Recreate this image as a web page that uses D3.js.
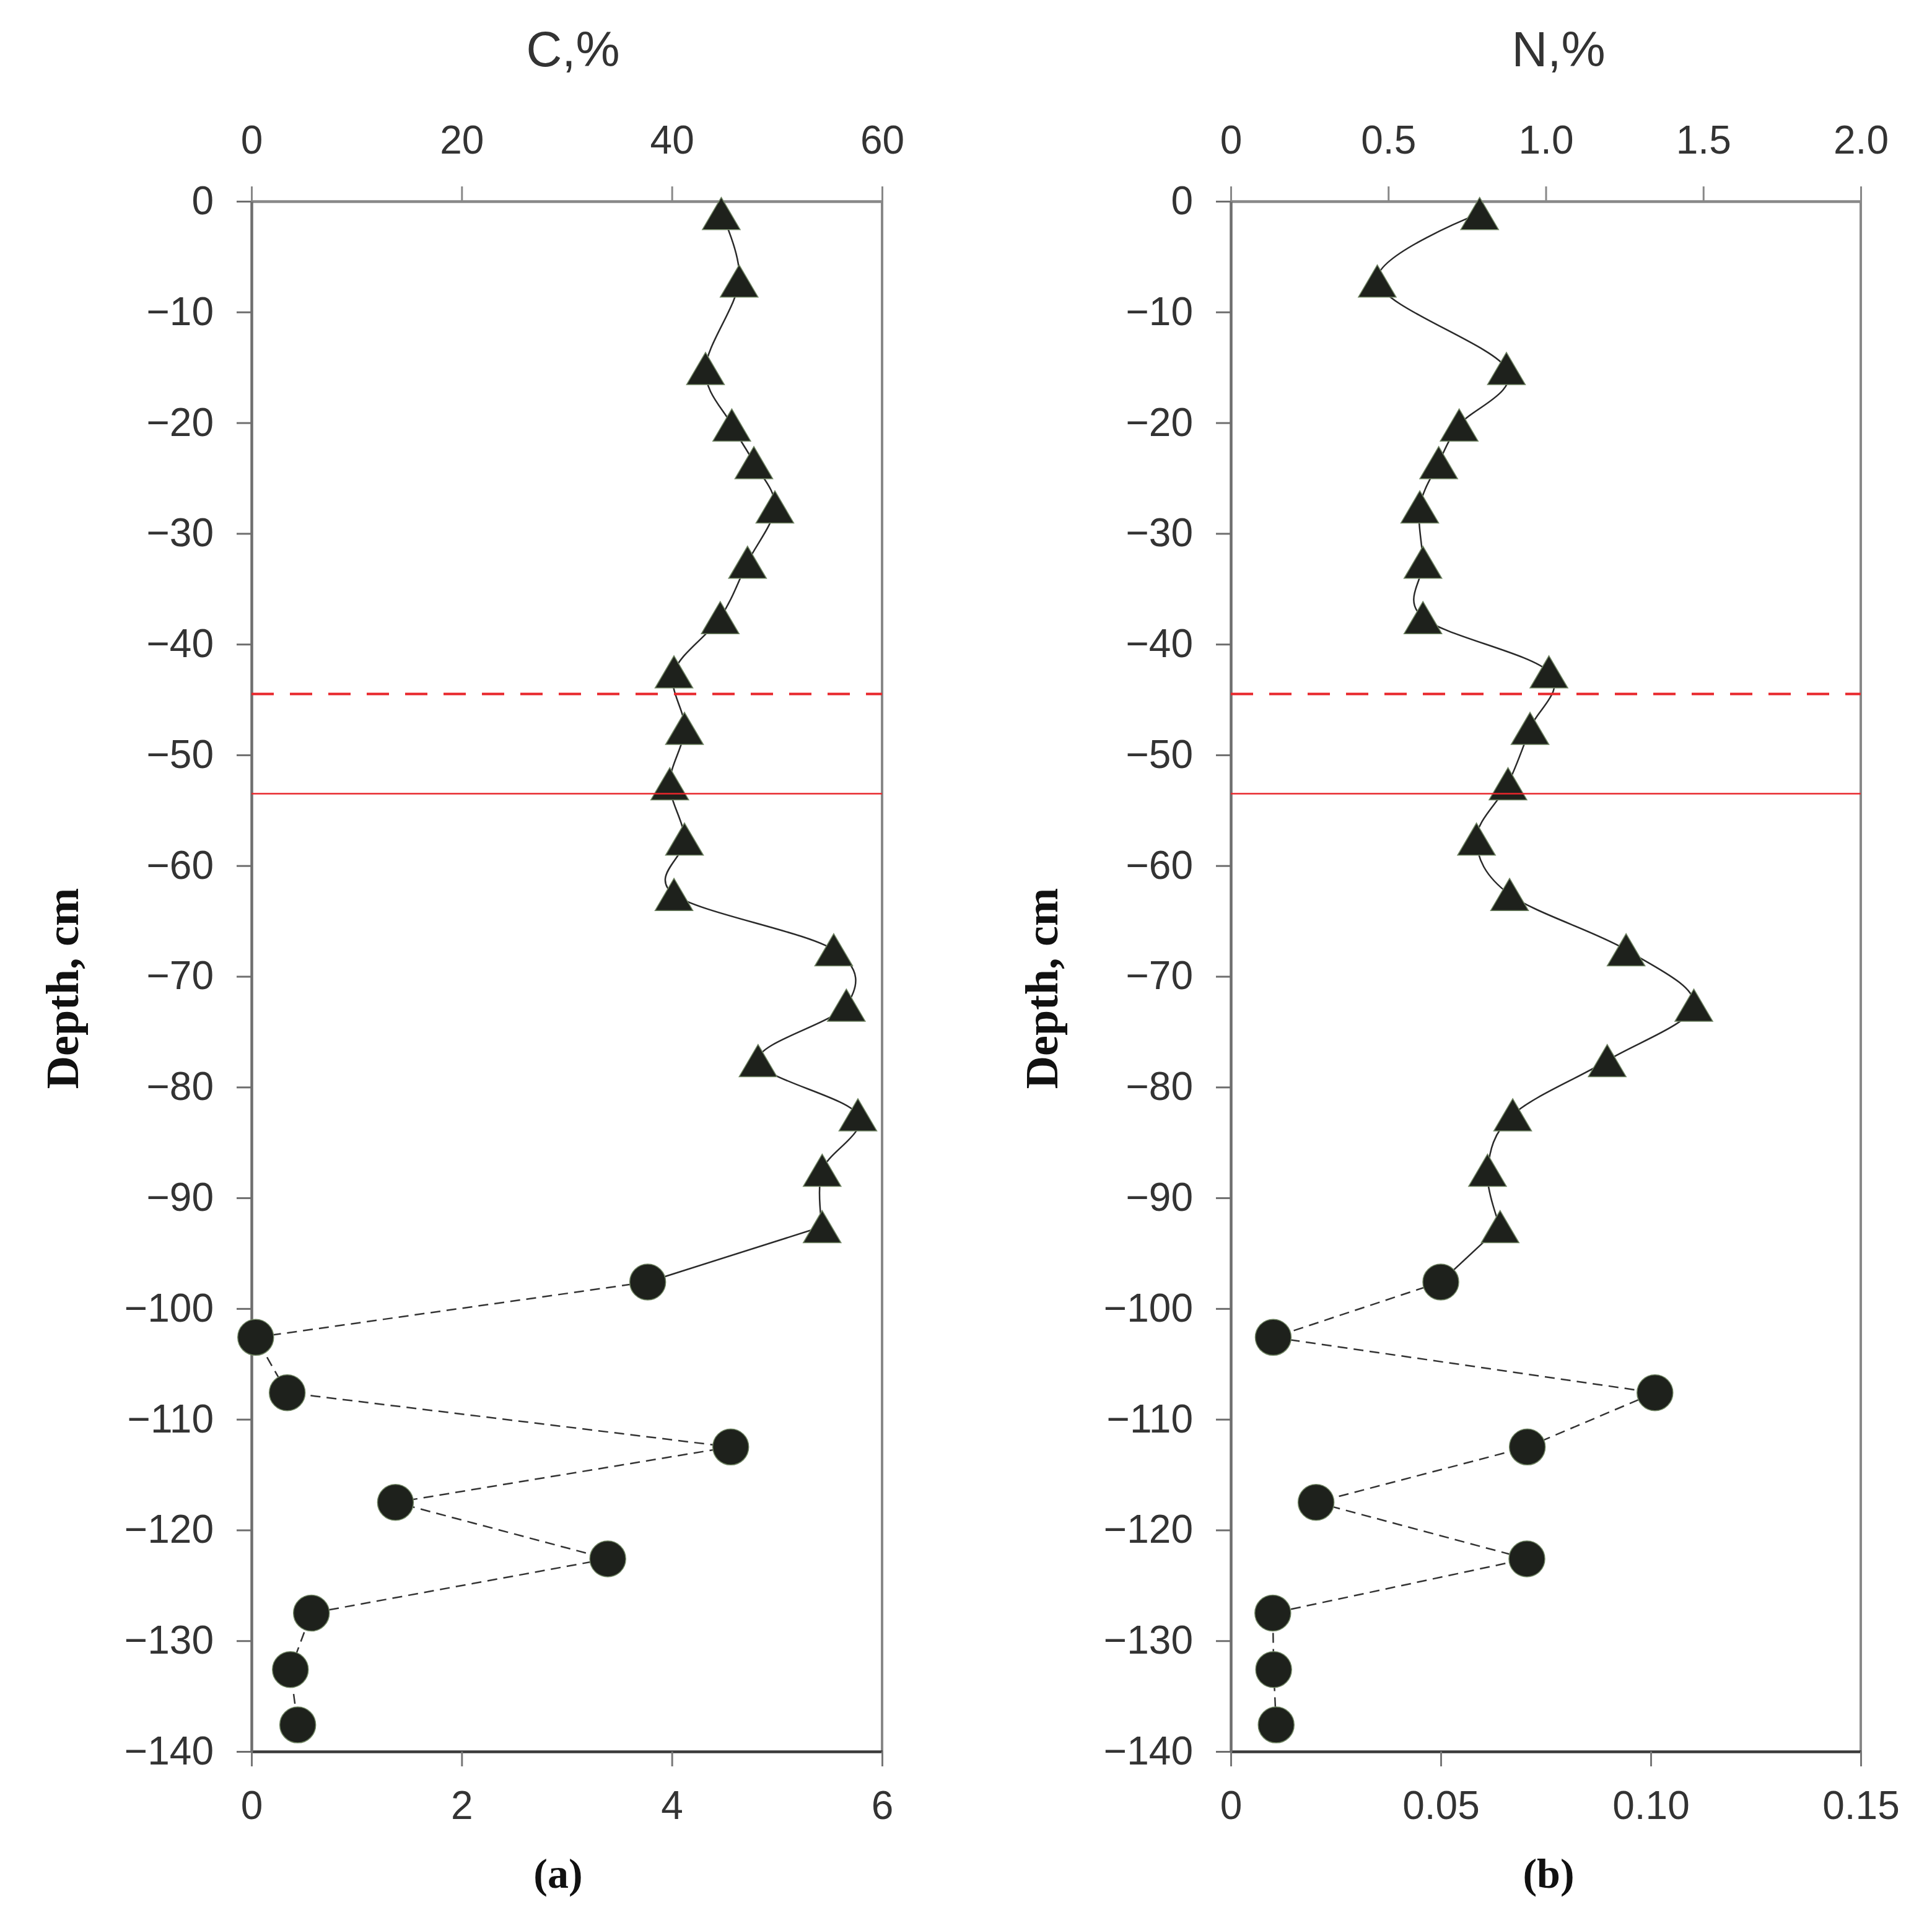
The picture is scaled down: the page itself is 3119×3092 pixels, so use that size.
<!DOCTYPE html>
<html>
<head>
<meta charset="utf-8">
<script src="https://cdn.jsdelivr.net/npm/d3@7"></script>
<style>
  body { margin: 0; background: #fff; }
  svg { display: block; }
</style>
</head>
<body>
<div class="graph-container"></div>
<script>
// depths of sample midpoints, cm (peat = triangles, mineral = circles)
const peatDepth = [-1.1, -7.2, -15.1, -20.2, -23.6, -27.6, -32.6, -37.6, -42.5, -47.6,
    -52.6, -57.6, -62.6, -67.6, -72.6, -77.6, -82.5, -87.5, -92.6];
const mineralDepth = [-97.6, -102.6, -107.6, -112.5, -117.5, -122.6, -127.5, -132.6, -137.6];

// C, % (peat on top axis 0-60, mineral on bottom axis 0-6)
const carbonPeat = [44.7, 46.4, 43.2, 45.7, 47.8, 49.8, 47.2, 44.6, 40.2, 41.2,
    39.8, 41.2, 40.2, 55.4, 56.6, 48.2, 57.7, 54.3, 54.3];
const carbonMineral = [3.77, 0.04, 0.34, 4.56, 1.37, 3.39, 0.57, 0.37, 0.44];

// N, % (peat on top axis 0-2, mineral on bottom axis 0-0.15)
const nitrogenPeat = [0.79, 0.465, 0.875, 0.725, 0.66, 0.60, 0.61, 0.61, 1.01, 0.95,
    0.88, 0.78, 0.885, 1.255, 1.47, 1.195, 0.895, 0.815, 0.855];
const nitrogenMineral = [0.050, 0.0101, 0.101, 0.0706, 0.0203, 0.0705, 0.0100, 0.0102, 0.0108];

// horizontal boundaries, cm
const boundaryDashed = -44.5;
const boundarySolid = -53.5;

// ticks
const depthTicks = [0, -10, -20, -30, -40, -50, -60, -70, -80, -90, -100, -110, -120, -130, -140];
const carbonTopTicks = [0, 20, 40, 60];
const carbonTopLabels = ['0', '20', '40', '60'];
const carbonBottomTicks = [0, 2, 4, 6];
const carbonBottomLabels = ['0', '2', '4', '6'];
const nitrogenTopTicks = [0, 0.5, 1.0, 1.5, 2.0];
const nitrogenTopLabels = ['0', '0.5', '1.0', '1.5', '2.0'];
const nitrogenBottomTicks = [0, 0.05, 0.10, 0.15];
const nitrogenBottomLabels = ['0', '0.05', '0.10', '0.15'];

const [width, height] = [3119, 3092];
const [plotTop, plotBottom] = [325, 2828];
const sans = '"Liberation Sans", Arial, sans-serif';
const serif = '"Liberation Serif", "Times New Roman", serif';

const svg = d3.select('div.graph-container')
    .append('svg')
    .attr('width', width)
    .attr('height', height)
    .attr('viewBox', `0 0 ${width} ${height}`);

const y = d3.scaleLinear().domain([0, -140]).range([plotTop, plotBottom]);

const panels = [
    {
        left: 406, right: 1424, title: 'C,%', titleX: 925, tag: '(a)', tagX: 901,
        topDomain: [0, 60], bottomDomain: [0, 6],
        topTicks: carbonTopTicks, topLabels: carbonTopLabels,
        bottomTicks: carbonBottomTicks, bottomLabels: carbonBottomLabels,
        peat: carbonPeat, mineral: carbonMineral
    },
    {
        left: 1987, right: 3004, title: 'N,%', titleX: 2516, tag: '(b)', tagX: 2500,
        topDomain: [0, 2], bottomDomain: [0, 0.15],
        topTicks: nitrogenTopTicks, topLabels: nitrogenTopLabels,
        bottomTicks: nitrogenBottomTicks, bottomLabels: nitrogenBottomLabels,
        peat: nitrogenPeat, mineral: nitrogenMineral
    }
];

const styleAxis = (g, color) => {
    g.select('.domain').attr('stroke', color).attr('stroke-width', 4.5);
    g.selectAll('.tick line').attr('stroke', color).attr('stroke-width', 3);
    g.selectAll('.tick text')
        .attr('fill', '#333')
        .attr('font-family', sans)
        .attr('font-size', 64);
};

// triangle marker, centred on its bounding box
const triW = 61, triH = 52;
const triangle = `M0,${-triH / 2}L${triW / 2},${triH / 2}L${-triW / 2},${triH / 2}Z`;

panels.forEach(p => {
    const xTop = d3.scaleLinear().domain(p.topDomain).range([p.left, p.right]);
    const xBottom = d3.scaleLinear().domain(p.bottomDomain).range([p.left, p.right]);

    // right frame line
    svg.append('line')
        .attr('x1', p.right).attr('x2', p.right)
        .attr('y1', plotTop).attr('y2', plotBottom)
        .attr('stroke', '#888').attr('stroke-width', 4);

    svg.append('g')
        .attr('transform', `translate(0,${plotTop})`)
        .call(d3.axisTop(xTop).tickValues(p.topTicks)
            .tickFormat((d, i) => p.topLabels[i])
            .tickSize(24).tickSizeOuter(0).tickPadding(53))
        .call(g => styleAxis(g, '#888'));

    svg.append('g')
        .attr('transform', `translate(0,${plotBottom})`)
        .call(d3.axisBottom(xBottom).tickValues(p.bottomTicks)
            .tickFormat((d, i) => p.bottomLabels[i])
            .tickSize(24).tickSizeOuter(0).tickPadding(40))
        .call(g => styleAxis(g, '#3a3a3a'))
        .call(g => g.selectAll('.tick line').attr('stroke', '#777'));

    svg.append('g')
        .attr('transform', `translate(${p.left},0)`)
        .call(d3.axisLeft(y).tickValues(depthTicks)
            .tickSize(24).tickSizeOuter(0).tickPadding(37))
        .call(g => styleAxis(g, '#6e6e6e'));

    // titles
    svg.append('text')
        .attr('x', p.titleX).attr('y', 107)
        .attr('text-anchor', 'middle')
        .attr('font-family', sans).attr('font-size', 80).attr('fill', '#333')
        .text(p.title);

    svg.append('text')
        .attr('transform', `translate(${p.left - 280},1596) rotate(-90)`)
        .attr('text-anchor', 'middle')
        .attr('font-family', serif).attr('font-weight', 'bold').attr('font-size', 74)
        .attr('fill', '#111')
        .text('Depth, cm');

    svg.append('text')
        .attr('x', p.tagX).attr('y', 3048)
        .attr('text-anchor', 'middle')
        .attr('font-family', serif).attr('font-weight', 'bold').attr('font-size', 68)
        .attr('fill', '#111')
        .text(p.tag);

    const peatPts = p.peat.map((v, i) => [xTop(v), y(peatDepth[i])]);
    const mineralPts = p.mineral.map((v, i) => [xBottom(v), y(mineralDepth[i])]);
    const lastPeat = peatPts[peatPts.length - 1];

    // smoothed solid line through peat samples
    svg.append('path')
        .attr('d', d3.line().curve(d3.curveCatmullRom.alpha(0))(peatPts))
        .attr('fill', 'none')
        .attr('stroke', '#2a2a2a')
        .attr('stroke-width', 2.5);

    // straight solid link to the first mineral sample
    svg.append('path')
        .attr('d', d3.line()([lastPeat, mineralPts[0]]))
        .attr('fill', 'none')
        .attr('stroke', '#2a2a2a')
        .attr('stroke-width', 2.5);

    // dashed line through mineral samples
    svg.append('path')
        .attr('d', d3.line()(mineralPts))
        .attr('fill', 'none')
        .attr('stroke', '#333')
        .attr('stroke-width', 2.5)
        .attr('stroke-dasharray', '16,10');

    svg.append('g')
        .selectAll('path')
        .data(peatPts)
        .enter()
        .append('path')
        .attr('d', triangle)
        .attr('transform', d => `translate(${d[0]},${d[1]})`)
        .attr('fill', '#1e211c')
        .attr('stroke', '#6f8462')
        .attr('stroke-width', 1.5);

    svg.append('g')
        .selectAll('circle')
        .data(mineralPts)
        .enter()
        .append('circle')
        .attr('cx', d => d[0])
        .attr('cy', d => d[1])
        .attr('r', 29)
        .attr('fill', '#1e211c')
        .attr('stroke', '#6f8462')
        .attr('stroke-width', 1.5);

    // boundary lines
    svg.append('line')
        .attr('x1', p.left).attr('x2', p.right)
        .attr('y1', y(boundaryDashed)).attr('y2', y(boundaryDashed))
        .attr('stroke', '#e8262b').attr('stroke-width', 4)
        .attr('stroke-dasharray', '36,26');

    svg.append('line')
        .attr('x1', p.left).attr('x2', p.right)
        .attr('y1', y(boundarySolid)).attr('y2', y(boundarySolid))
        .attr('stroke', '#e8262b').attr('stroke-width', 2.5);
});
</script>
</body>
</html>
